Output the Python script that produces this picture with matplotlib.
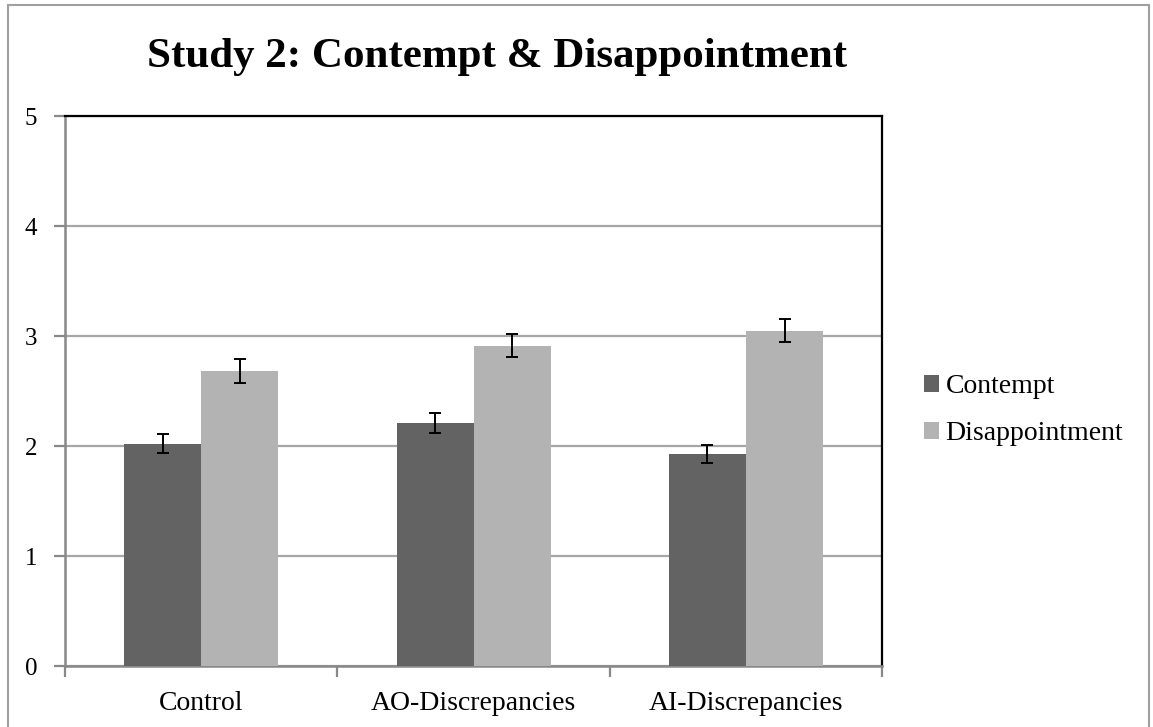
import matplotlib.pyplot as plt
import numpy as np
from matplotlib.patches import Rectangle

# data
categories = ["Control", "AO-Discrepancies", "AI-Discrepancies"]
contempt = [2.02, 2.21, 1.93]
contempt_err = [0.085, 0.09, 0.083]
disappointment = [2.68, 2.91, 3.05]
disappointment_err = [0.107, 0.105, 0.107]

plt.rcParams['font.family'] = ['Liberation Serif', 'DejaVu Serif']

fig = plt.figure(figsize=(11.53, 7.27), dpi=100)
ax = fig.add_axes([0.0564, 0.0839, 0.7087, 0.7565])

x = np.arange(len(categories))
w = 0.283
ekw = dict(ecolor='black', elinewidth=1.4, capsize=4.5, capthick=1.4)
ax.bar(x - w / 2, contempt, w, yerr=contempt_err, color='#636363',
       label='Contempt', error_kw=ekw, zorder=3)
ax.bar(x + w / 2, disappointment, w, yerr=disappointment_err, color='#b3b3b3',
       label='Disappointment', error_kw=ekw, zorder=3)

ax.set_xlim(-0.5, 2.5)
ax.set_ylim(0, 5)
ax.set_yticks(range(6))
ax.yaxis.grid(True, color='#a6a6a6', linewidth=1.6, zorder=0)

# category ticks sit on the boundaries, labels in the middle
ax.set_xticks([-0.5, 0.5, 1.5, 2.5])
ax.set_xticklabels([])
ax.set_xticks(x, minor=True)
ax.set_xticklabels(categories, minor=True, fontsize=20)
ax.tick_params(axis='x', which='minor', length=0, pad=18)
ax.tick_params(axis='x', which='major', length=8, width=1.6, color='#888888')
ax.tick_params(axis='y', length=8, width=1.6, color='#888888', labelsize=18, pad=12)

for s in ['left', 'bottom']:
    ax.spines[s].set_color('#888888')
    ax.spines[s].set_linewidth(1.8)
for s in ['top', 'right']:
    ax.spines[s].set_color('black')
    ax.spines[s].set_linewidth(1.6)

fig.text(0.431, 1 - 67 / 727, "Study 2: Contempt & Disappointment", ha='center', va='baseline',
         fontsize=31, fontweight='bold')

ax.legend(loc='center left', bbox_to_anchor=(1.038, 0.465), frameon=False, fontsize=20,
          handlelength=0.54, handleheight=0.54, handletextpad=0.22, labelspacing=0.78,
          borderaxespad=0)

# outer chart border
fig.patches.append(Rectangle((8 / 1153, -0.01), 1141 / 1153, 1.01 - 5 / 727,
                             transform=fig.transFigure, fill=False,
                             edgecolor='#a0a0a0', linewidth=1.5))

fig.savefig('out.png', dpi=100)
